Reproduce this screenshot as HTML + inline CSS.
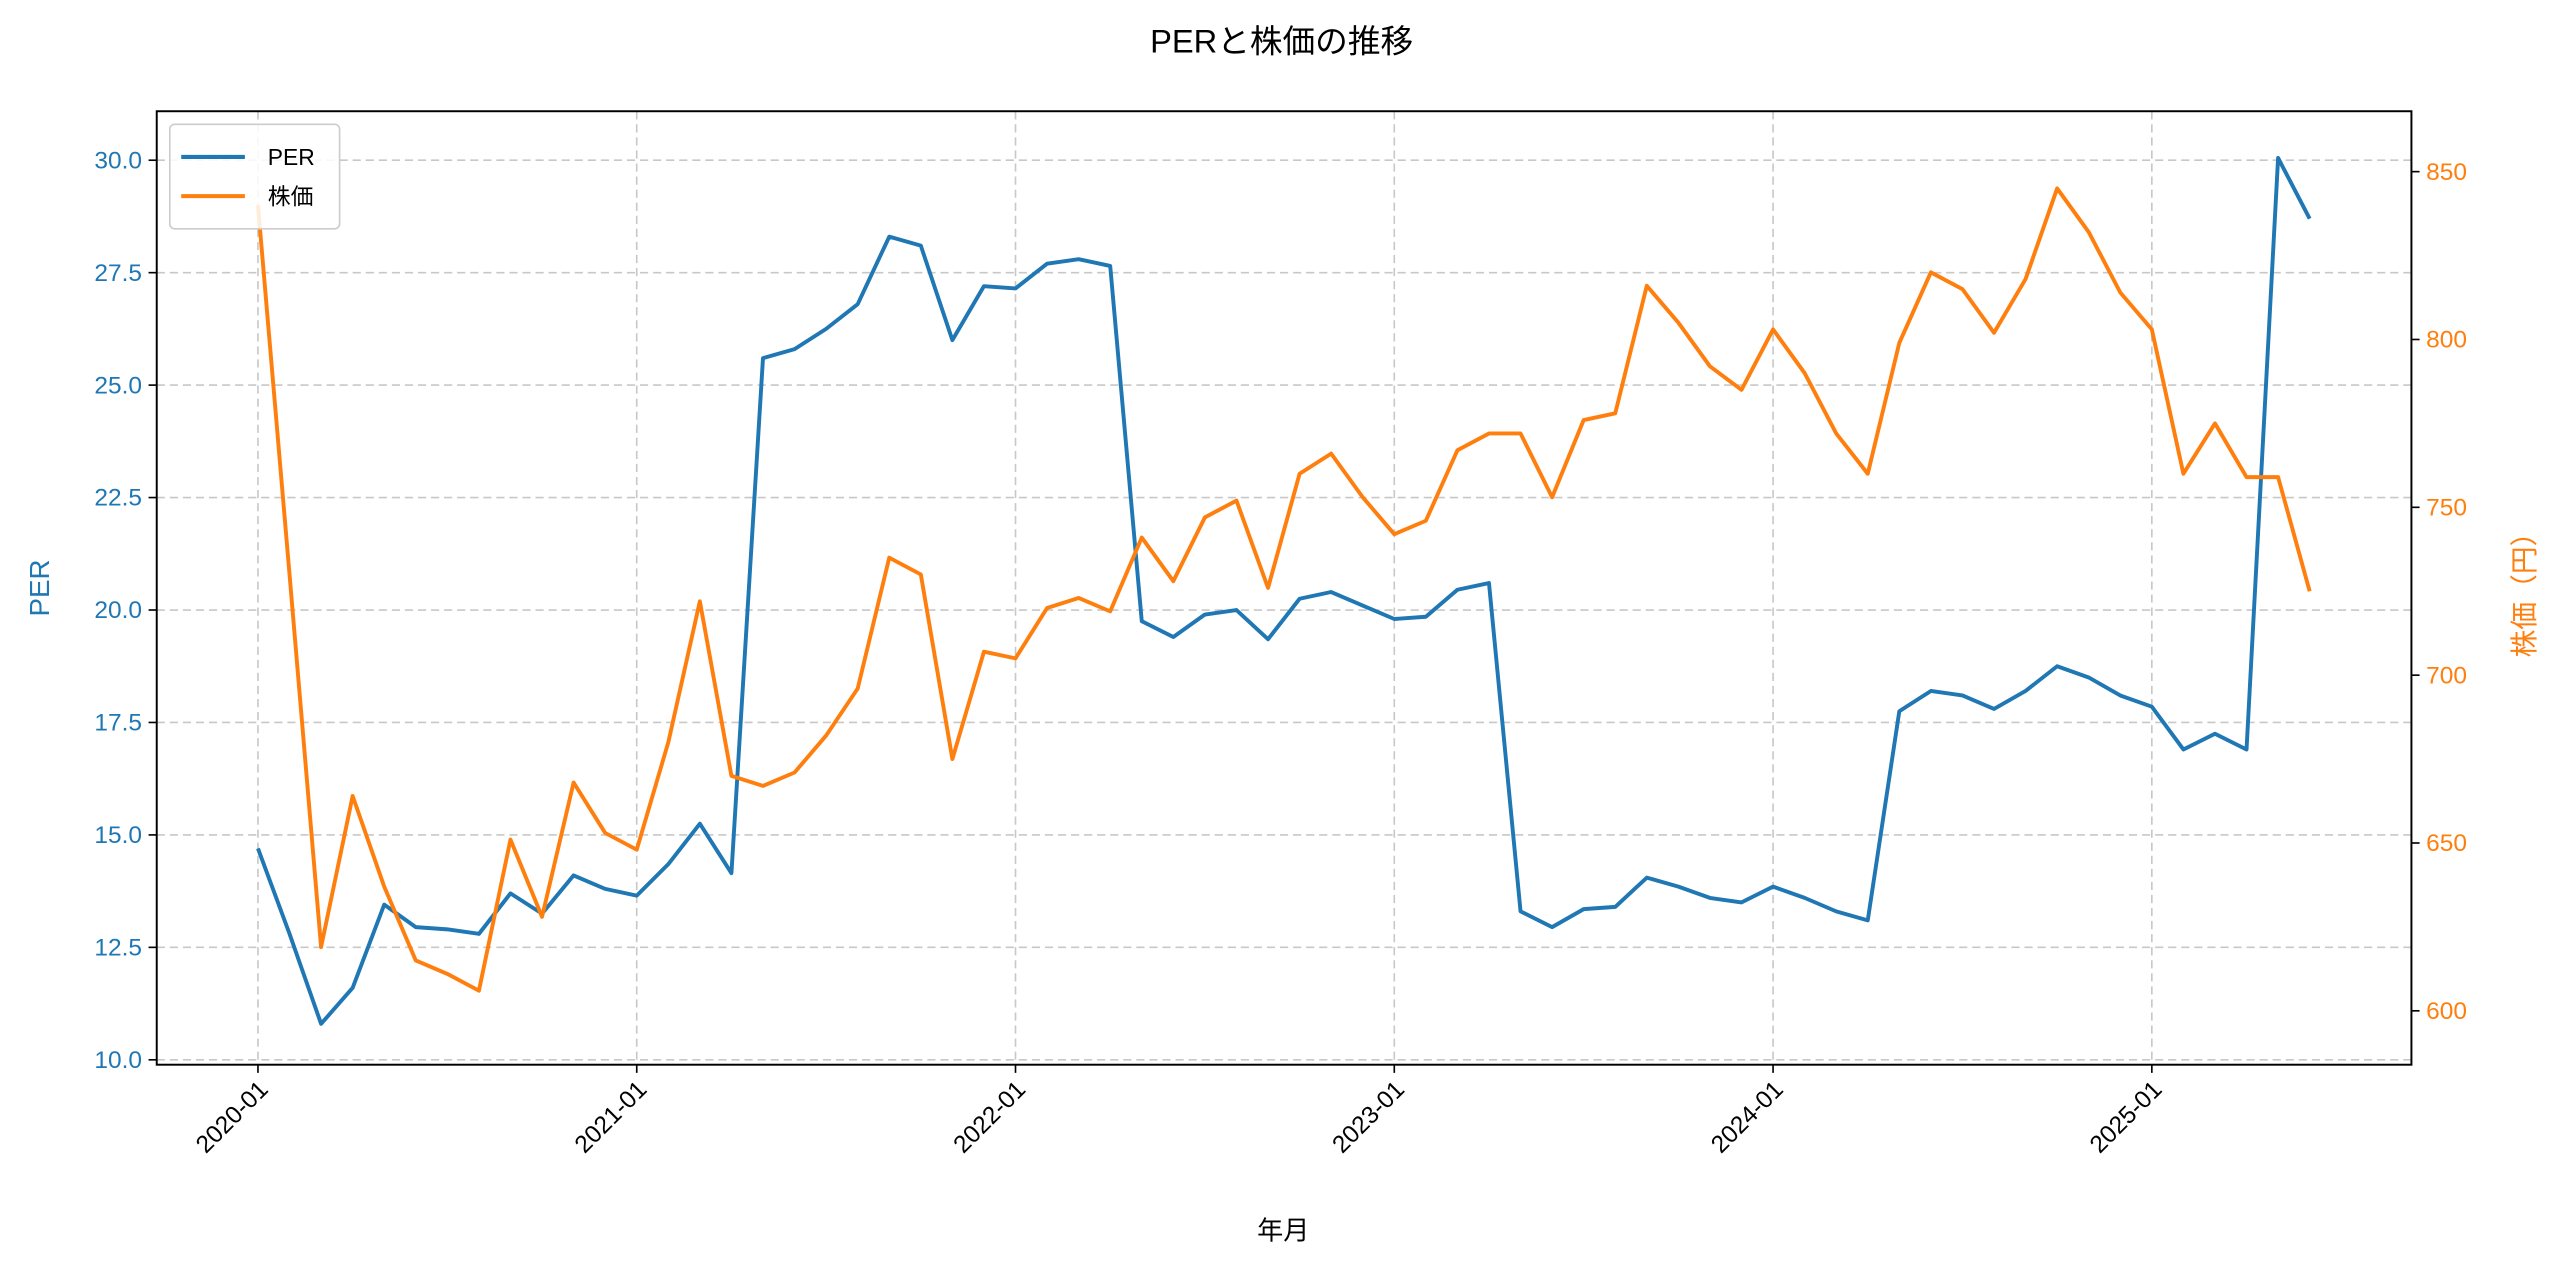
<!DOCTYPE html>
<html><head><meta charset="utf-8"><style>
html,body{margin:0;padding:0;background:#fff;}
svg{display:block;font-family:"Liberation Sans","Noto Sans CJK JP",sans-serif;}
</style></head><body>
<svg id="chart" width="2560" height="1269" viewBox="0 0 1568 777" xmlns="http://www.w3.org/2000/svg">
<rect width="1568" height="777" fill="#fff"/>
<g id="grid"></g>
<g id="series"></g>
<rect x="96" y="68" width="1381" height="584" fill="none" stroke="#000" stroke-width="1.2"/>
<g id="axes"></g>
<text x="785" y="32" font-size="20" text-anchor="middle" fill="#000">PERと株価の推移</text>
<text x="786" y="759" font-size="16" text-anchor="middle" fill="#000">年月</text>
<text transform="translate(30,360) rotate(-90)" font-size="17" text-anchor="middle" fill="#1f77b4">PER</text>
<text transform="translate(1552,360) rotate(-90)" font-size="17" text-anchor="middle" fill="#ff7f0e">株価（円）</text>
<g>
<rect x="104" y="76" width="104" height="64" rx="3" fill="#fff" fill-opacity="0.85" stroke="#ccc"/>
<line x1="111" y1="96" x2="150" y2="96" stroke="#1f77b4" stroke-width="2.5"/>
<text x="164" y="101" font-size="14" fill="#000">PER</text>
<line x1="111" y1="120" x2="150" y2="120" stroke="#ff7f0e" stroke-width="2.5"/>
<text x="164" y="125" font-size="14" fill="#000">株価</text>
</g>
</svg>
<script>
const months = 66;
const yearLabels = ["2020-01","2021-01","2022-01","2023-01","2024-01","2025-01"];
const perTicks = [10.0,12.5,15.0,17.5,20.0,22.5,25.0,27.5,30.0];
const priceTicks = [600,650,700,750,800,850];
const perValues = [14.7,12.8,10.8,11.6,13.45,12.95,12.9,12.8,13.7,13.25,14.1,13.8,13.65,14.35,15.25,14.15,25.6,25.8,26.25,26.8,28.3,28.1,26.0,27.2,27.15,27.7,27.8,27.65,19.75,19.4,19.9,20.0,19.35,20.25,20.4,20.1,19.8,19.85,20.45,20.6,13.3,12.95,13.35,13.4,14.05,13.85,13.6,13.5,13.85,13.6,13.3,13.1,17.75,18.2,18.1,17.8,18.2,18.75,18.5,18.1,17.85,16.9,17.25,16.9,30.05,28.7];
const priceValues = [840,730,619,664,637,615,611,606,651,628,668,653,648,680,722,670,667,671,682,696,735,730,675,707,705,720,723,719,741,728,747,752,726,760,766,753,742,746,767,772,772,753,776,778,816,805,792,785,803,790,772,760,799,820,815,802,818,845,832,814,803,760,775,759,759,725];

const NS="http://www.w3.org/2000/svg";
const X=i=>158+i*(232/12);
const YL=v=>649-(v-10)*27.55;
const YR=v=>619-(v-600)*2.056;
function mk(tag,attrs,parent){const e=document.createElementNS(NS,tag);for(const k in attrs)e.setAttribute(k,attrs[k]);parent.appendChild(e);return e;}
const grid=document.getElementById('grid'),axes=document.getElementById('axes'),series=document.getElementById('series');
perTicks.forEach(v=>{
  const y=YL(v);
  const g=mk('line',{x1:96,x2:1477,y1:y,y2:y,stroke:'#c8c8c8','stroke-width':1,'stroke-dasharray':'5,3'},grid);
  
  
  mk('line',{x1:91,x2:96,y1:y,y2:y,stroke:'#000','stroke-width':1},axes);
  const t=mk('text',{x:87,y:y+5,'font-size':15,'text-anchor':'end',fill:'#1f77b4'},axes);
  t.textContent=v.toFixed(1);
  
  
});
priceTicks.forEach(v=>{
  const y=YR(v);
  mk('line',{x1:1477,x2:1482,y1:y,y2:y,stroke:'#000','stroke-width':1},axes);
  const t=mk('text',{x:1486,y:y+5,'font-size':15,fill:'#ff7f0e'},axes);
  t.textContent=String(v);
  
  
});
yearLabels.forEach((s,k)=>{
  const x=X(k*12);
  const g=mk('line',{x1:x,x2:x,y1:68,y2:652,stroke:'#c8c8c8','stroke-width':1,'stroke-dasharray':'5,3'},grid);
  
  
  mk('line',{x1:x,x2:x,y1:652,y2:657,stroke:'#000','stroke-width':1},axes);
  const t=mk('text',{transform:`translate(${x+7},${668}) rotate(-45)`,'font-size':15,'text-anchor':'end',fill:'#000'},axes);
  t.textContent=s;
  
  
});
const p1=mk('polyline',{points:perValues.map((v,i)=>X(i)+','+YL(v)).join(' '),fill:'none',stroke:'#1f77b4','stroke-width':2.4,'stroke-linejoin':'round'},series);


const p2=mk('polyline',{points:priceValues.map((v,i)=>X(i)+','+YR(v)).join(' '),fill:'none',stroke:'#ff7f0e','stroke-width':2.4,'stroke-linejoin':'round'},series);


</script>
</body></html>
